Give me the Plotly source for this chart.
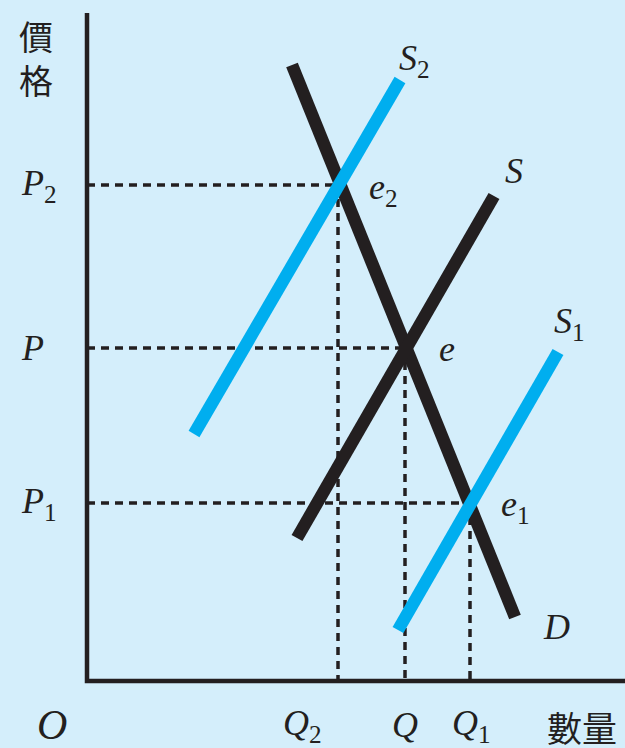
import plotly.graph_objects as go

# ---- data (quantity / price units, origin at O) ----
D_q = [205, 428]
D_p = [616, 64]
S_q = [210, 407]
S_p = [143, 485]
S2_q = [107, 313]
S2_p = [247, 601]
S1_q = [311, 471]
S1_p = [51, 329]

eq_q = [251, 318, 383]          # Q2, Q, Q1
eq_p = [496, 333, 178]          # P2, P, P1
q_labels = ["<i>Q</i><sub>2</sub>", "<i>Q</i>", "<i>Q</i><sub>1</sub>"]
p_labels = ["<i>P</i><sub>2</sub>", "<i>P</i>", "<i>P</i><sub>1</sub>"]
e_labels = ["<i>e</i><sub>2</sub>", "<i>e</i>", "<i>e</i><sub>1</sub>"]

AXIS_TOP = 668
AXIS_RIGHT = 538

BG = "#d4eefb"
BLACK = "#231f20"
BLUE = "#00aeef"
SERIF = "Liberation Serif, Times New Roman, serif"
CJK = "Noto Sans CJK TC"

fig = go.Figure()

# dashed guides
for q, p in zip(eq_q, eq_p):
    fig.add_trace(go.Scatter(x=[0, q], y=[p, p], mode="lines",
                             line=dict(color=BLACK, width=3.5, dash="8px,6px"),
                             hoverinfo="skip", showlegend=False))
    fig.add_trace(go.Scatter(x=[q, q], y=[p, 0], mode="lines",
                             line=dict(color=BLACK, width=3.5, dash="8px,6px"),
                             hoverinfo="skip", showlegend=False))

# axes
fig.add_trace(go.Scatter(x=[0, 0, AXIS_RIGHT], y=[AXIS_TOP, 0, 0], mode="lines",
                         line=dict(color=BLACK, width=4.5),
                         hoverinfo="skip", showlegend=False))

# curves
for xs, ys, c in [(D_q, D_p, BLACK), (S_q, S_p, BLACK),
                  (S2_q, S2_p, BLUE), (S1_q, S1_p, BLUE)]:
    fig.add_trace(go.Scatter(x=xs, y=ys, mode="lines",
                             line=dict(color=c, width=12.5),
                             hoverinfo="skip", showlegend=False))

ann = []
def txt(x, y, t, size=36, fam=SERIF, xa="center", ya="middle"):
    ann.append(dict(x=x, y=y, xref="x", yref="y", text=t, showarrow=False,
                    font=dict(family=fam, size=size, color=BLACK),
                    xanchor=xa, yanchor=ya, borderpad=0))

# axis titles
txt(-51, 624, "價<br>格", size=34, fam=CJK)
txt(495, -45, "數量", size=35, fam=CJK)
txt(-35, -44, "<i>O</i>", size=42)

# Q labels
for q, lab in zip([215, 318, 384], q_labels):
    txt(q, -44, lab)
# P labels
for p, lab in zip(eq_p, p_labels):
    txt(-67, p, lab, xa="left")

# curve labels
txt(327, 621, "<i>S</i><sub>2</sub>", xa="center")
txt(427, 510, "<i>S</i>")
txt(466, 358, "<i>S</i><sub>1</sub>", xa="left")
txt(455, 54, "<i>D</i>", xa="left")

# equilibrium labels
txt(281, 492, e_labels[0], xa="left")
txt(351, 332, e_labels[1], xa="left")
txt(413, 175, e_labels[2], xa="left")

fig.update_layout(
    width=625, height=748,
    margin=dict(l=0, r=0, t=0, b=0),
    paper_bgcolor=BG, plot_bgcolor=BG,
    xaxis=dict(range=[-87, 538], visible=False, fixedrange=True),
    yaxis=dict(range=[-67, 681], visible=False, fixedrange=True),
    annotations=ann,
    showlegend=False,
)

fig.write_html(
    "out.html",
    config={"displayModeBar": False},
    post_script="document.body.style.margin='0';document.body.style.padding='0';"
                "document.body.style.background='" + BG + "';",
)
